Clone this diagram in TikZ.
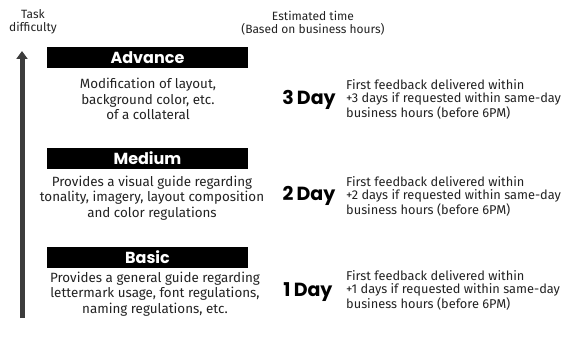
\documentclass[tikz,border=0pt]{standalone}
\usepackage{fontspec}
\setmainfont{Fira Sans}
\newfontfamily\headfont{Poppins}
\usetikzlibrary{arrows.meta}
\definecolor{ink}{HTML}{222222}
\definecolor{axis}{HTML}{3C3C3C}
\begin{document}
\begin{tikzpicture}[x=1pt,y=-1pt,
  label/.style={text=ink,font=\fontsize{12}{13.5}\selectfont,align=center,inner sep=0pt},
  bar/.style={fill=black,minimum width=201pt,minimum height=21pt,inner sep=0pt,
    text=white,font=\headfont\bfseries\fontsize{16}{17}\selectfont},
  desc/.style={text=ink,font=\fontsize{13.4}{15.4}\selectfont,align=center,inner sep=0pt},
  days/.style={text=black,font=\headfont\bfseries\fontsize{19}{21}\selectfont,inner sep=0pt},
  note/.style={text=ink,font=\fontsize{12.8}{13.4}\selectfont,align=left,inner sep=0pt,anchor=west}]
  \useasboundingbox (0,0) rectangle (576,337);

  % column headings
  \node[label] (taskhead) at (33,22) {Task\\difficulty};
  \node[label] (timehead) at (313,23) {Estimated time\\(Based on business hours)};

  % difficulty axis
  \coordinate (axisbot) at (22,318);
  \coordinate (axistop) at (22,51);
  \draw[axis,line width=5pt,-{Triangle[width=11pt,length=8pt]}] (axisbot) -- (axistop);

  % advance level
  \node[bar] (advance) at (147.5,57.5) {Advance};
  \node[desc] (advdesc) at (148,99) {Modification of layout,\\background color, etc.\\of a collateral};
  \node[days] (advdays) at (309,100) {3\,Day};
  \node[note] (advnote) at (346,99.5) {First feedback delivered within\\+3 days if requested within same-day\\business hours (before 6PM)};

  % medium level
  \node[bar] (medium) at (147.5,158) {Medium};
  \node[desc] (meddesc) at (152,198) {Provides a visual guide regarding\\tonality, imagery, layout composition\\and color regulations};
  \node[days] (meddays) at (309,196) {2\,Day};
  \node[note] (mednote) at (346,196) {First feedback delivered within\\+2 days if requested within same-day\\business hours (before 6PM)};

  % basic level
  \node[bar] (basic) at (147.5,257) {Basic};
  \node[desc] (basdesc) at (155,294) {Provides a general guide regarding\\lettermark usage, font regulations,\\naming regulations, etc.};
  \node[days] (basdays) at (308,292) {1\,Day};
  \node[note] (basnote) at (346,290.5) {First feedback delivered within\\+1 days if requested within same-day\\business hours (before 6PM)};
\end{tikzpicture}
\end{document}
